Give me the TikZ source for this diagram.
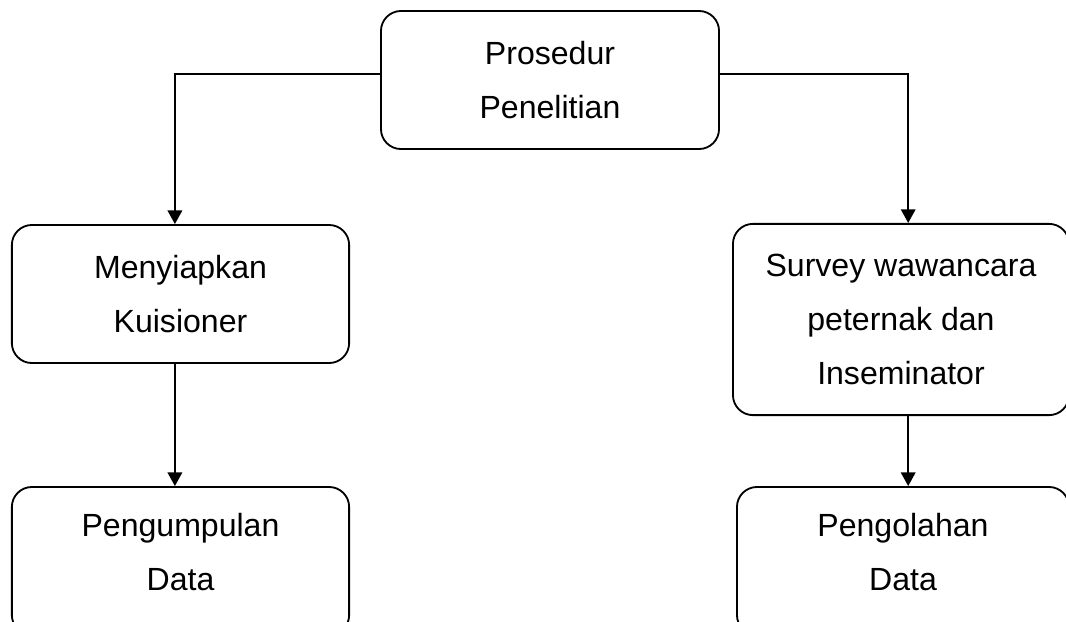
\documentclass[tikz,border=0pt]{standalone}
\usepackage{fontspec}
\setmainfont{Liberation Sans}
\usetikzlibrary{arrows.meta}
\tikzset{
  kotak/.style={draw, line width=1.3pt, rounded corners=0.5cm, align=center,
    font=\fontsize{22.8pt}{38.5pt}\selectfont},
  panah/.style={line width=1.4pt, -{Triangle[length=0.34cm,width=0.36cm]}}
}
\begin{document}
\begin{tikzpicture}[x=0.025cm,y=-0.025cm]
  \useasboundingbox (0,0) rectangle (1066,621);
  \clip (0,0) rectangle (1066,621);
  % kotak-kotak
  \node[kotak, minimum width=8.45cm, minimum height=3.45cm] (prosedur) at (550,80) {Prosedur\\Penelitian};
  \node[kotak, minimum width=8.43cm, minimum height=3.45cm] (kuisioner) at (180.5,294) {Menyiapkan\\Kuisioner};
  \node[kotak, minimum width=8.4cm, minimum height=4.78cm] (survey) at (901,319.5) {Survey wawancara\\peternak dan\\Inseminator};
  \node[kotak, minimum width=8.43cm, minimum height=3.7cm, text depth=0.45cm] (kumpul) at (180.5,561) {Pengumpulan\\Data};
  \node[kotak, minimum width=8.3cm, minimum height=3.7cm, text depth=0.45cm] (olah) at (903,561) {Pengolahan\\Data};
  % panah
  \draw[panah] ([yshift=0.15cm]prosedur.west) -| ([xshift=-0.14cm]kuisioner.north);
  \draw[panah] ([yshift=0.15cm]prosedur.east) -| ([xshift=0.18cm]survey.north);
  \draw[panah] ([xshift=-0.14cm]kuisioner.south) -- ([xshift=-0.14cm]kumpul.north);
  \draw[panah] ([xshift=0.18cm]survey.south) -- ([xshift=0.18cm]survey.south |- olah.north);
\end{tikzpicture}
\end{document}
